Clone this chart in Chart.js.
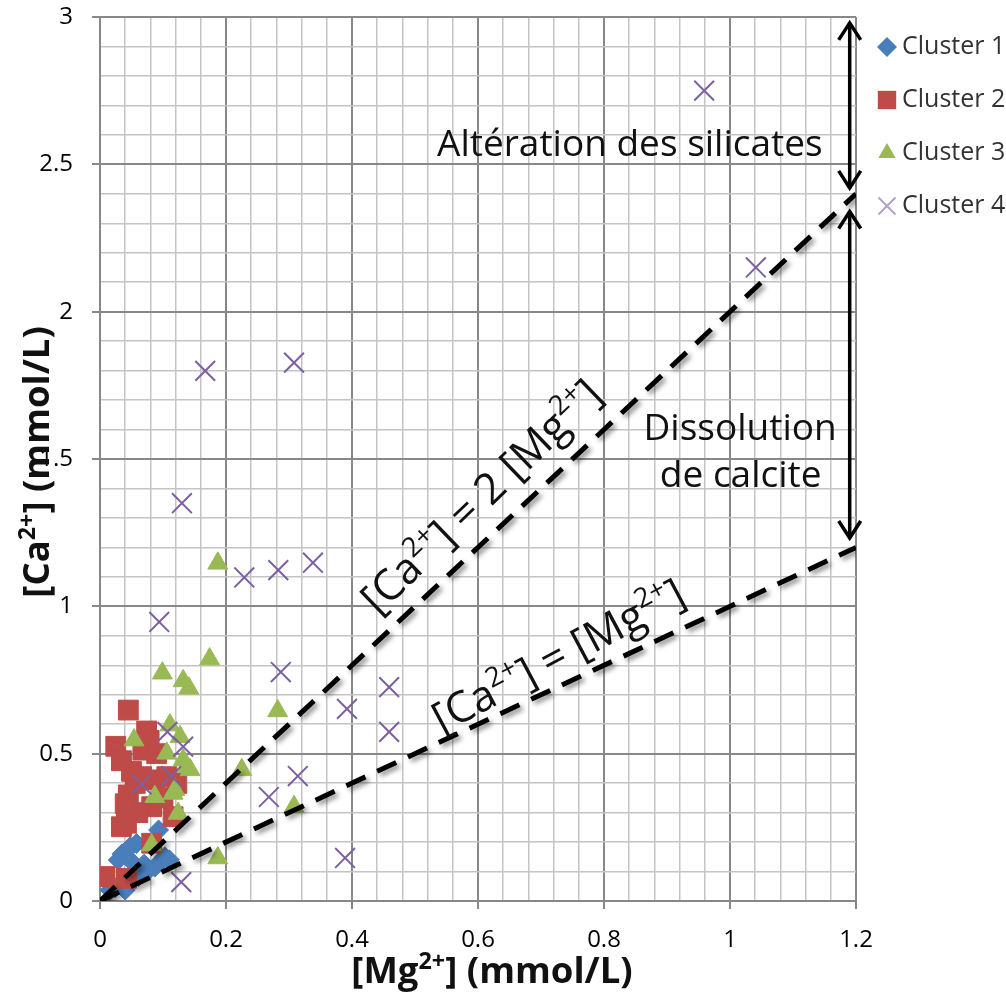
<!DOCTYPE html>
<html>
<head>
<meta charset="utf-8">
<script src="https://cdn.jsdelivr.net/npm/chart.js@4.4.1/dist/chart.umd.min.js"></script>
<style>
  html, body { margin: 0; padding: 0; background: #fff; }
  #wrap { width: 1006px; height: 995px; }
</style>
</head>
<body>
<div id="wrap"><canvas id="chart"></canvas></div>
<script>
// Cluster labels
const clusterNames = ["Cluster 1", "Cluster 2", "Cluster 3", "Cluster 4"];

// [Mg2+] / [Ca2+] in mmol/L
const mg1 = [0.093, 0.048, 0.029, 0.053, 0.077, 0.098, 0.103, 0.061, 0.040, 0.087, 0.024, 0.035, 0.070, 0.110, 0.058, 0.016];
const ca1 = [0.241, 0.184, 0.139, 0.128, 0.105, 0.139, 0.150, 0.083, 0.037, 0.115, 0.045, 0.160, 0.125, 0.140, 0.195, 0.037];

const mg2 = [0.045, 0.074, 0.025, 0.034, 0.068, 0.056, 0.045, 0.087, 0.106, 0.122, 0.042, 0.034, 0.082, 0.116, 0.082, 0.008, 0.042, 0.066, 0.060, 0.050, 0.090, 0.078, 0.100, 0.040];
const ca2 = [0.648, 0.577, 0.525, 0.476, 0.512, 0.399, 0.360, 0.411, 0.422, 0.399, 0.264, 0.252, 0.320, 0.286, 0.196, 0.083, 0.077, 0.422, 0.300, 0.440, 0.500, 0.545, 0.350, 0.330];

const mg3 = [0.187, 0.174, 0.099, 0.132, 0.141, 0.282, 0.225, 0.308, 0.187, 0.054, 0.111, 0.127, 0.106, 0.132, 0.138, 0.143, 0.087, 0.116, 0.124, 0.082, 0.119];
const ca3 = [1.146, 0.821, 0.773, 0.747, 0.722, 0.645, 0.445, 0.320, 0.146, 0.546, 0.597, 0.557, 0.501, 0.478, 0.456, 0.445, 0.354, 0.365, 0.297, 0.190, 0.377];

const mg4 = [0.959, 1.041, 0.308, 0.167, 0.130, 0.229, 0.283, 0.338, 0.094, 0.287, 0.392, 0.459, 0.459, 0.314, 0.268, 0.389, 0.129, 0.107, 0.132, 0.066, 0.113];
const ca4 = [2.750, 2.150, 1.827, 1.799, 1.350, 1.098, 1.123, 1.148, 0.947, 0.777, 0.652, 0.726, 0.574, 0.424, 0.353, 0.146, 0.064, 0.574, 0.524, 0.396, 0.424];

// reference lines Ca = 2 Mg and Ca = Mg
const refMg = [0, 1.2];
const refCa2 = [0, 2.4];
const refCa1 = [0, 1.2];

// tick labels
const xTickLabels = ["0", "0.2", "0.4", "0.6", "0.8", "1", "1.2"];
const yTickLabels = ["0", "0.5", "1", "1.5", "2", "2.5", "3"];

// double arrows on the right: [Mg, Ca from, Ca to]
const arrowMg = [1.19, 1.19];
const arrowCaTop = [2.98, 2.34];
const arrowCaBottom = [2.42, 1.232];

const FONT = "'Open Sans', 'DejaVu Sans', sans-serif";
const colors = ["#4a7ebb", "#be4b48", "#98b954", "#7d60a0"];
const styles = ["rectRot", "rect", "triangle", "crossRot"];

function pts(xs, ys) {
    return xs.map((x, i) => ({ x: x, y: ys[i] }));
}

function isMajor(v, step) {
    return Math.abs(v / step - Math.round(v / step)) < 1e-6;
}

function tickText(v, step, labels) {
    if (!isMajor(v, step)) return "";
    const i = Math.round(v / step);
    return labels[i] !== undefined ? labels[i] : "";
}

// draws text with superscript parts, centred on (x, y)
function drawRich(ctx, parts, x, y, angle, size, weight) {
    ctx.save();
    ctx.translate(x, y);
    ctx.rotate(angle);
    ctx.textAlign = "left";
    ctx.textBaseline = "alphabetic";
    let total = 0;
    parts.forEach(p => {
        ctx.font = `${weight} ${p[1] ? size * 0.64 : size}px ${FONT}`;
        total += ctx.measureText(p[0]).width;
    });
    let cx = -total / 2;
    const base = size * 0.36;
    parts.forEach(p => {
        ctx.font = `${weight} ${p[1] ? size * 0.64 : size}px ${FONT}`;
        ctx.fillText(p[0], cx, p[1] ? base - size * 0.40 : base);
        cx += ctx.measureText(p[0]).width;
    });
    ctx.restore();
}

function drawArrowHead(ctx, x, y, dir) {
    // dir = 1 pointing up, -1 pointing down
    ctx.beginPath();
    ctx.moveTo(x - 11, y + dir * 17);
    ctx.lineTo(x, y);
    ctx.lineTo(x + 11, y + dir * 17);
    ctx.stroke();
}

const lineShadow = {
    id: "lineShadow",
    beforeDatasetDraw(chart, args) {
        if (!chart.data.datasets[args.index].showLine) return;
        const c = chart.ctx;
        c.save();
        c.shadowColor = "rgba(0,0,0,0.45)";
        c.shadowBlur = 5;
        c.shadowOffsetX = 3;
        c.shadowOffsetY = 3;
    },
    afterDatasetDraw(chart, args) {
        if (!chart.data.datasets[args.index].showLine) return;
        chart.ctx.restore();
    }
};

const annotations = {
    id: "annotations",
    afterDraw(chart) {
        const ctx = chart.ctx;
        const xs = chart.scales.x, ys = chart.scales.y;
        const area = chart.chartArea;
        ctx.save();
        ctx.fillStyle = "#111";
        ctx.strokeStyle = "#000";

        // arrows
        ctx.lineWidth = 3.5;
        arrowMg.forEach((m, i) => {
            const px = xs.getPixelForValue(m);
            const top = ys.getPixelForValue(arrowCaTop[i]);
            const bot = ys.getPixelForValue(arrowCaBottom[i]);
            ctx.beginPath();
            ctx.moveTo(px, top);
            ctx.lineTo(px, bot);
            ctx.stroke();
            drawArrowHead(ctx, px, top, 1);
            drawArrowHead(ctx, px, bot, -1);
        });

        // zone labels
        drawRich(ctx, [["Altération des silicates", 0]], xs.getPixelForValue(0.841), ys.getPixelForValue(2.575), 0, 37, "normal");
        drawRich(ctx, [["Dissolution", 0]], xs.getPixelForValue(1.016), ys.getPixelForValue(1.61), 0, 37, "normal");
        drawRich(ctx, [["de calcite", 0]], xs.getPixelForValue(1.017), ys.getPixelForValue(1.45), 0, 37, "normal");

        // line labels
        drawRich(ctx, [["[Ca", 0], ["2+", 1], ["] = 2 [Mg", 0], ["2+", 1], ["]", 0]],
            xs.getPixelForValue(0.604), ys.getPixelForValue(1.375), -44 * Math.PI / 180, 43, "normal");
        drawRich(ctx, [["[Ca", 0], ["2+", 1], ["] = [Mg", 0], ["2+", 1], ["]", 0]],
            xs.getPixelForValue(0.727), ys.getPixelForValue(0.835), -28 * Math.PI / 180, 43, "normal");

        // axis titles
        drawRich(ctx, [["[Mg", 0], ["2+", 1], ["] (mmol/L)", 0]], (area.left + area.right) / 2 + 14, area.bottom + 69, 0, 36.5, "bold");
        drawRich(ctx, [["[Ca", 0], ["2+", 1], ["] (mmol/L)", 0]], 36, ys.getPixelForValue(1.49), -Math.PI / 2, 36.5, "bold");

        // legend
        const H = Chart.helpers;
        clusterNames.forEach((name, i) => {
            const lx = area.right + 31;
            const ly = area.top + 30 + i * 53;
            ctx.fillStyle = i === 3 ? "#b3a2c7" : colors[i];
            ctx.strokeStyle = i === 3 ? "#b3a2c7" : colors[i];
            ctx.lineWidth = 2;
            H.drawPoint(ctx, { pointStyle: styles[i], radius: i === 1 ? 13 : (i === 3 ? 12 : 10), rotation: 0, borderWidth: i === 3 ? 2 : 0 }, lx, ly);
            ctx.fillStyle = "#333";
            ctx.font = `25px ${FONT}`;
            ctx.textAlign = "left";
            ctx.textBaseline = "middle";
            ctx.fillText(name, lx + 15, ly);
        });
        ctx.restore();
    }
};

const clusterMg = [mg1, mg2, mg3, mg4];
const clusterCa = [ca1, ca2, ca3, ca4];
const radii = [10, 14, 11.5, 14];

const datasets = clusterNames.map((name, i) => ({
    label: name,
    data: pts(clusterMg[i], clusterCa[i]),
    pointStyle: styles[i],
    pointRadius: radii[i],
    pointBackgroundColor: colors[i],
    pointBorderColor: colors[i],
    pointBorderWidth: i === 3 ? 2 : 1,
    order: 5 - i
}));

datasets.push({
    label: "Ca = 2 Mg",
    data: pts(refMg, refCa2),
    showLine: true,
    pointRadius: 0,
    borderColor: "#000",
    borderWidth: 5,
    borderDash: [21, 13],
    order: 1
});
datasets.push({
    label: "Ca = Mg",
    data: pts(refMg, refCa1),
    showLine: true,
    pointRadius: 0,
    borderColor: "#000",
    borderWidth: 5,
    borderDash: [21, 13],
    order: 0
});

Chart.defaults.font.family = FONT;

new Chart(document.getElementById("chart"), {
    type: "scatter",
    data: { datasets: datasets },
    options: {
        responsive: true,
        maintainAspectRatio: false,
        animation: false,
        layout: { padding: { top: 17, right: 150, left: 0, bottom: 0 } },
        plugins: {
            legend: { display: false },
            tooltip: { enabled: false }
        },
        scales: {
            x: {
                type: "linear",
                min: 0,
                max: 1.2,
                afterFit: (s) => { s.height = 94; },
                ticks: {
                    stepSize: 0.04,
                    autoSkip: false,
                    maxRotation: 0,
                    padding: 17,
                    color: "#000",
                    font: { size: 24 },
                    callback: (v) => tickText(v, 0.2, xTickLabels)
                },
                grid: {
                    color: (c) => isMajor(c.tick.value, 0.2) ? "#888" : "#c4c4c4",
                    lineWidth: (c) => isMajor(c.tick.value, 0.2) ? 2 : 1.5,
                    tickLength: 8,
                    tickColor: (c) => isMajor(c.tick.value, 0.2) ? "#888" : "rgba(0,0,0,0)"
                },
                border: { color: "#888", width: 2 }
            },
            y: {
                type: "linear",
                min: 0,
                max: 3,
                afterFit: (s) => { s.width = 100; s.paddingTop = 0; s.paddingBottom = 0; },
                ticks: {
                    stepSize: 0.1,
                    autoSkip: false,
                    padding: 19,
                    color: "#000",
                    font: { size: 24 },
                    callback: (v) => tickText(v, 0.5, yTickLabels)
                },
                grid: {
                    color: (c) => isMajor(c.tick.value, 0.5) ? "#888" : "#c4c4c4",
                    lineWidth: (c) => isMajor(c.tick.value, 0.5) ? 2 : 1.5,
                    tickLength: 8,
                    tickColor: (c) => isMajor(c.tick.value, 0.5) ? "#888" : "rgba(0,0,0,0)"
                },
                border: { color: "#888", width: 2 }
            }
        }
    },
    plugins: [lineShadow, annotations]
});
</script>
</body>
</html>
